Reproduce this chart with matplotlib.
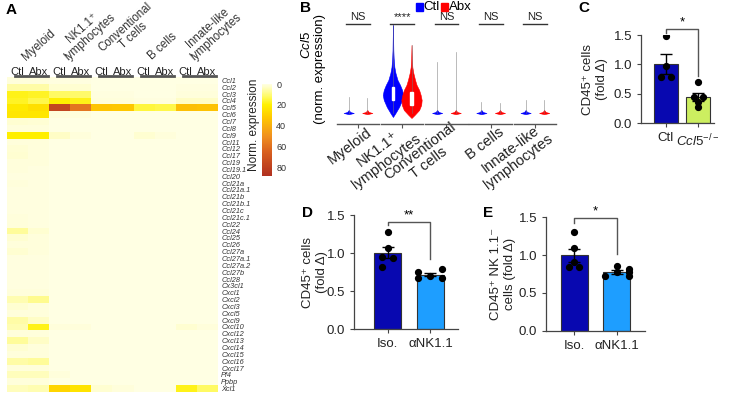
import matplotlib
matplotlib.use("Agg")
import matplotlib.pyplot as plt
import numpy as np
from matplotlib.colors import LinearSegmentedColormap
from matplotlib.patches import Rectangle
import matplotlib.transforms as mtransforms

plt.rcParams['font.family'] = ['Liberation Sans', 'DejaVu Sans']
plt.rcParams['mathtext.fontset'] = 'custom'
plt.rcParams['mathtext.rm'] = 'Liberation Sans'
plt.rcParams['mathtext.it'] = 'Liberation Sans:italic'

# === данные: A (тепловая карта) ===
heat_groups = ["Myeloid", "NK1.1⁺\nlymphocytes", "Conventional\nT cells", "B cells", "Innate-like\nlymphocytes"]
heat_cols = ["Ctl", "Abx"] * 5
genes = ["Ccl1", "Ccl2", "Ccl3", "Ccl4", "Ccl5", "Ccl6", "Ccl7", "Ccl8", "Ccl9", "Ccl11",
         "Ccl12", "Ccl17", "Ccl19", "Ccl19.1", "Ccl20", "Ccl21a", "Ccl21a.1", "Ccl21b",
         "Ccl21b.1", "Ccl21c", "Ccl21c.1", "Ccl22", "Ccl24", "Ccl25", "Ccl26", "Ccl27a",
         "Ccl27a.1", "Ccl27a.2", "Ccl27b", "Ccl28", "Cx3cl1", "Cxcl1", "Cxcl2", "Cxcl3",
         "Cxcl5", "Cxcl9", "Cxcl10", "Cxcl12", "Cxcl13", "Cxcl14", "Cxcl15", "Cxcl16",
         "Cxcl17", "Pf4", "Ppbp", "Xcl1"]
heat_values = [
    [1, 1, 0.5, 0.5, 0, 0, 0, 0, 0, 0],        # Ccl1
    [6, 6, 2, 2, 0, 0, 0, 0, 0.5, 0.5],        # Ccl2
    [18, 17, 12, 11, 0.5, 0.5, 0, 0, 1, 1],    # Ccl3
    [17, 14, 20, 18, 1, 1, 0.5, 0.5, 3, 3],    # Ccl4
    [22, 25, 77, 58, 33, 32, 15, 14, 35, 34],  # Ccl5
    [23, 23, 1, 1, 0, 0, 0, 0, 0, 0],          # Ccl6
    [2, 1.5, 0, 0, 0, 0, 0, 0, 0, 0],          # Ccl7
    [1, 1, 0, 0, 0, 0, 0, 0, 0, 0],            # Ccl8
    [20, 20, 3, 1, 0, 0, 2, 1, 0, 0],          # Ccl9
    [1, 1, 0, 0, 0, 0, 0, 0, 0, 0],            # Ccl11
    [1.5, 1, 0, 0, 0, 0, 0, 0, 0, 0],          # Ccl12
    [2, 1, 0, 0, 0, 0, 0, 0, 0, 0],            # Ccl17
    [1, 1, 0, 0, 0, 0, 0, 0, 0, 0],            # Ccl19
    [1, 0.5, 0, 0, 0, 0, 0, 0, 0, 0],          # Ccl19.1
    [0.5, 0.5, 0, 0, 0, 0, 0, 0, 0, 0],        # Ccl20
    [1, 0.5, 0, 0, 0, 0, 0, 0, 0, 0],          # Ccl21a
    [0.5, 0.5, 0, 0, 0, 0, 0, 0, 0, 0],        # Ccl21a.1
    [0.5, 0.5, 0, 0, 0, 0, 0, 0, 0, 0],        # Ccl21b
    [0.5, 0.5, 0, 0, 0, 0, 0, 0, 0, 0],        # Ccl21b.1
    [0.5, 0.5, 0, 0, 0, 0, 0, 0, 0, 0],        # Ccl21c
    [1, 0.5, 0, 0, 0, 0, 0, 0, 0, 0],          # Ccl21c.1
    [1, 0.5, 0, 0, 0, 0, 0, 0, 0, 0],          # Ccl22
    [7, 2, 0, 0, 0, 0, 0, 0, 0, 0],            # Ccl24
    [2, 1, 0, 0, 0, 0, 0, 0, 0, 0],            # Ccl25
    [1, 1, 0, 0, 0, 0, 0, 0, 0, 0],            # Ccl26
    [2, 1, 0, 0, 0, 0, 0, 0, 0, 0],            # Ccl27a
    [0.5, 0.5, 0, 0, 0, 0, 0, 0, 0, 0],        # Ccl27a.1
    [0.5, 0.5, 0, 0, 0, 0, 0, 0, 0, 0],        # Ccl27a.2
    [0.5, 0.5, 0, 0, 0, 0, 0, 0, 0, 0],        # Ccl27b
    [0.5, 0.5, 0, 0, 0, 0, 0, 0, 0, 0],        # Ccl28
    [0.5, 0.5, 0, 0, 0, 0, 0, 0, 0, 0],        # Cx3cl1
    [1, 1, 0, 0, 0, 0, 0, 0, 0, 0],            # Cxcl1
    [5, 8, 0, 0, 0, 0, 0, 0, 0, 0],            # Cxcl2
    [2, 1, 0, 0, 0, 0, 0, 0, 0, 0],            # Cxcl3
    [1, 1, 0, 0, 0, 0, 0, 0, 0, 0],            # Cxcl5
    [6, 3, 0, 0, 0, 0, 0, 0, 0, 0],            # Cxcl9
    [5, 18, 1, 1, 0, 0, 0, 0, 2, 1],           # Cxcl10
    [1, 1, 0, 0, 0, 0, 0, 0, 0, 0],            # Cxcl12
    [7, 3, 0, 0, 0, 0, 0, 0, 0, 0],            # Cxcl13
    [2, 1, 0, 0, 0, 0, 0, 0, 0, 0],            # Cxcl14
    [1, 1, 0, 0, 0, 0, 0, 0, 0, 0],            # Cxcl15
    [6, 7, 0, 0, 0, 0, 0, 0, 0, 0],            # Cxcl16
    [1, 1, 0, 0, 0, 0, 0, 0, 0, 0],            # Cxcl17
    [4, 4, 1, 0, 0, 0, 0, 0, 0, 0],            # Pf4
    [1, 1, 0, 0, 0, 0, 0, 0, 0, 0],            # Ppbp
    [4, 5, 28, 24, 2, 1, 0, 0, 18, 12],        # Xcl1
]
cbar_ticks = [0, 20, 40, 60, 80]

# === данные: B (скрипичные диаграммы Ccl5) ===
violin_groups = ["Myeloid", "NK1.1⁺\nlymphocytes", "Conventional\nT cells", "B cells", "Innate-like\nlymphocytes"]
tail_max_ctl = [1.6, 8.8, 5.1, 1.1, 1.3]
tail_max_abx = [1.5, 6.8, 6.1, 1.0, 1.3]
nk_ctl_levels = [-0.4, 0, 0.6, 1.3, 1.8, 2.3, 2.8, 3.3, 4.0, 4.6, 5.5, 6.3, 7.5, 8.8]
nk_ctl_density = [0, 0.25, 0.6, 0.9, 1.0, 0.9, 0.7, 0.45, 0.25, 0.14, 0.07, 0.04, 0.02, 0]
nk_abx_levels = [-0.5, -0.2, 0.3, 0.8, 1.3, 1.8, 2.3, 2.8, 3.3, 4.0, 4.6, 5.5, 6.8]
nk_abx_density = [0, 0.3, 0.75, 0.95, 1.0, 0.9, 0.75, 0.5, 0.35, 0.18, 0.08, 0.03, 0]
flat_levels = [-0.12, 0, 0.1, 0.3]
flat_density = [0, 0.5, 0.15, 0]
nk_iqr_ctl = [1.3, 2.6]
nk_iqr_abx = [0.8, 2.1]
violin_sig = ["NS", "****", "NS", "NS", "NS"]

# === данные: C, D, E (столбцы с точками) ===
c_labels = ["Ctl", r"$\mathit{Ccl5}^{-/-}$"]
c_points = [[1.48, 0.97, 0.79, 0.79], [0.70, 0.44, 0.44, 0.37, 0.28]]
d_labels = ["Iso.", "αNK1.1"]
d_points = [[1.27, 1.06, 0.95, 0.93, 0.82], [0.75, 0.67, 0.70, 0.79, 0.67]]
e_labels = ["Iso.", "αNK1.1"]
e_points = [[1.30, 1.09, 0.91, 0.84, 0.84], [0.72, 0.86, 0.77, 0.81, 0.77, 0.72]]

# === фигура ===
W, H = 731, 404
fig = plt.figure(figsize=(W / 100, H / 100), dpi=100)


def px_axes(x0, y0, x1, y1):
    return fig.add_axes([x0 / W, 1 - y1 / H, (x1 - x0) / W, (y1 - y0) / H])


def ftext(x, y, s, **kw):
    return fig.text(x / W, 1 - y / H, s, **kw)


# --- A ---
cmap = LinearSegmentedColormap.from_list("heat", [
    (0.0, "#FFFFE3"), (5 / 88, "#FFFDB0"), (12 / 88, "#FFFA60"), (20 / 88, "#FFF000"),
    (32 / 88, "#FFC800"), (50 / 88, "#F09020"), (65 / 88, "#D86020"), (1.0, "#B03020")])
axA = px_axes(7, 77, 217, 392)
im = axA.imshow(np.array(heat_values), aspect="auto", cmap=cmap, vmin=0, vmax=88,
                interpolation="nearest")
axA.set_xticks([])
axA.set_yticks(range(len(genes)))
axA.set_yticklabels(genes, fontsize=5.3, style="italic", color="#333")
axA.yaxis.tick_right()
axA.tick_params(axis="y", length=0, pad=3)
for s in axA.spines.values():
    s.set_visible(False)
for c, lab in enumerate(heat_cols):
    axA.text(c, -1.25, lab, ha="center", va="center", fontsize=8, color="#222")
for g, name in enumerate(heat_groups):
    axA.plot([2 * g - 0.12, 2 * g + 1.45], [-0.68, -0.68], color="#555", lw=2, clip_on=False)
    axA.text(2 * g - 0.5 + 21 / 21, -2.6, name, rotation=42, rotation_mode="anchor",
             ha="left", va="bottom", multialignment="center", fontsize=8.3,
             linespacing=0.95, color="#333")
axA.set_xlim(-0.5, 9.5)
axA.set_ylim(len(genes) - 0.5, -0.5)
ftext(6, 10, "A", fontsize=11, fontweight="bold", va="center", ha="left")

cax = px_axes(262, 84, 272, 176)
cb = fig.colorbar(im, cax=cax)
cb.set_ticks(cbar_ticks)
cax.invert_yaxis()
cb.outline.set_visible(False)
cax.tick_params(length=0, labelsize=6.5, pad=3, colors="#333")
ftext(254, 125, "Norm. expression", rotation=90, ha="center", va="center", fontsize=8.5,
      color="#222")

# --- B ---
axB = px_axes(335, 10, 557, 124)
axB.set_xlim(-0.52, 4.5)
axB.set_ylim(-1.1, 10.3)
for s in axB.spines.values():
    s.set_visible(False)
axB.set_yticks([])
half = 0.23
for i in range(5):
    for dx, color, top in [(-0.21, "#0000FF", tail_max_ctl[i]), (0.21, "#FF0000", tail_max_abx[i])]:
        x0 = i + dx
        axB.plot([x0, x0], [0, top], color="#777", lw=0.5, alpha=0.7)
        if i == 1:
            lv, dn = (nk_ctl_levels, nk_ctl_density) if dx < 0 else (nk_abx_levels, nk_abx_density)
        else:
            lv, dn = flat_levels, flat_density
        w = np.array(dn) * half
        axB.fill_betweenx(lv, x0 - w, x0 + w, color=color, lw=0.4, edgecolor=color)
    axB.plot([i - 0.48, i + 0.48], [-1.1, -1.1], color="#555", lw=1, clip_on=False)
    axB.plot([i - 0.27, i + 0.27], [8.9, 8.9], color="#333", lw=1)
    axB.text(i, 9.05, violin_sig[i], ha="center", va="bottom", fontsize=8, color="#222")
for x0, (lo, hi) in [(1 - 0.21, nk_iqr_ctl), (1 + 0.21, nk_iqr_abx)]:
    axB.add_patch(Rectangle((x0 - 0.03, lo), 0.06, hi - lo, color="white", zorder=3))
axB.set_xticks(range(5))
axB.set_xticklabels(violin_groups, rotation=37, ha="right", va="center",
                    rotation_mode="anchor", fontsize=10.5, color="#222",
                    multialignment="center", linespacing=1.05)
axB.tick_params(axis="x", length=3, color="#555", pad=2)
off = mtransforms.ScaledTranslation(12 / 100, 0, fig.dpi_scale_trans)
for lab in axB.get_xticklabels():
    lab.set_transform(lab.get_transform() + off)
ftext(306, 45, r"$\mathit{Ccl5}$", rotation=90, ha="center", va="center", fontsize=9.5)
ftext(320, 69, "(norm. expression)", rotation=90, ha="center", va="center", fontsize=9.5)
ftext(300, 8, "B", fontsize=11, fontweight="bold", va="center", ha="left")
fig.add_artist(Rectangle((416 / W, 1 - 11 / H), 7 / W, 8 / H, color="#0000FF",
                         transform=fig.transFigure))
ftext(423.5, 7, "Ctl", fontsize=9.5, va="center", ha="left")
fig.add_artist(Rectangle((441 / W, 1 - 11 / H), 7 / W, 8 / H, color="#FF0000",
                         transform=fig.transFigure))
ftext(448.5, 7, "Abx", fontsize=9.5, va="center", ha="left")


# --- C, D, E ---
def bar_panel(rect, labels, points, colors, jitter, xlim, width, ylabel, label_x,
              bracket, star):
    ax = px_axes(*rect)
    means = [np.mean(p) for p in points]
    sems = [np.std(p, ddof=1) / np.sqrt(len(p)) for p in points]
    xs = np.arange(len(points))
    ax.bar(xs, means, width, color=colors, edgecolor="#333", lw=0.8, zorder=2)
    ax.errorbar(xs, means, yerr=sems, fmt="none", ecolor="black", elinewidth=1,
                capsize=4, capthick=1, zorder=3)
    for i, p in enumerate(points):
        ax.plot(i + np.array(jitter[i]), p, "o", color="black", ms=4.2, zorder=4)
    ax.set_xlim(*xlim)
    ax.set_ylim(0, 1.5)
    ax.set_yticks([0, 0.5, 1.0, 1.5])
    ax.set_yticklabels(["0.0", "0.5", "1.0", "1.5"])
    ax.set_xticks(xs)
    ax.set_xticklabels(labels)
    ax.tick_params(labelsize=9.5, colors="#222", length=3, width=0.8)
    ax.tick_params(color="#444")
    for s in ["top", "right"]:
        ax.spines[s].set_visible(False)
    for s in ["left", "bottom"]:
        ax.spines[s].set_color("#444")
        ax.spines[s].set_linewidth(0.9)
    ax.set_ylabel(ylabel, fontsize=9.5, color="#222")
    ax.yaxis.set_label_coords(label_x, 0.5)
    top, lft, rgt = bracket
    ax.plot([0, 0, 1, 1], [lft, top, top, rgt], color="#555", lw=1, clip_on=False)
    ax.text(0.5, top + 0.01, star, ha="center", va="bottom", fontsize=9.5)
    return ax


bar_panel((641, 35, 714, 123.3), c_labels, c_points, ["#0808B0", "#CCEE60"],
          [[0, 0, -0.14, 0.16], [0, -0.14, 0.16, 0, 0]], (-0.78, 1.5), 0.72,
          "CD45⁺ cells\n(fold Δ)", -0.45, (1.60, 1.53, 0.80), "*")
bar_panel((354, 215, 458, 329), d_labels, d_points, ["#0808B0", "#1E9EFF"],
          [[0, 0, -0.12, 0.13, -0.12], [-0.28, -0.28, 0, 0.26, 0.26]], (-0.78, 1.64), 0.63,
          "CD45⁺ cells\n(fold Δ)", -0.25, (1.41, 1.37, 0.92), "**")
bar_panel((546, 217.3, 645, 330.7), e_labels, e_points, ["#0808B0", "#1E9EFF"],
          [[0, 0, 0, -0.12, 0.12], [-0.27, 0, 0, 0.28, 0.28, 0.28]], (-0.67, 1.67), 0.64,
          "CD45⁺ NK 1.1⁻\ncells (fold Δ)", -0.30, (1.49, 1.43, 1.02), "*")
ftext(578, 8, "C", fontsize=11, fontweight="bold", va="center", ha="left")
ftext(302, 213, "D", fontsize=11, fontweight="bold", va="center", ha="left")
ftext(483, 213, "E", fontsize=11, fontweight="bold", va="center", ha="left")

fig.savefig("out.png", dpi=100)
